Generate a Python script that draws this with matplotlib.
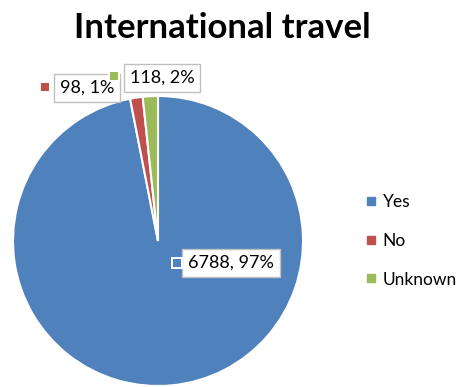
import matplotlib
matplotlib.use("Agg")
import matplotlib.pyplot as plt
from matplotlib.lines import Line2D

categories = ["Yes", "No", "Unknown"]
values = [6788, 98, 118]
percents = ["97%", "1%", "2%"]
colors = ["#4F81BD", "#C0504D", "#9BBB59"]
title = "International travel"

W, H = 464, 387
fig = plt.figure(figsize=(W / 100, H / 100), dpi=100)
cx, cy, r = 158, 241, 145
ax = fig.add_axes([(cx - r) / W, (H - cy - r) / H, 2 * r / W, 2 * r / H])
ax.pie(values, colors=colors, startangle=90, counterclock=False,
       wedgeprops=dict(edgecolor="white", linewidth=1.5))
ax.set_xlim(-1, 1)
ax.set_ylim(-1, 1)
ax.set_aspect("equal")
ax.axis("off")

font = "Lato"

def d(px, py):
    return (px - cx) / r, (cy - py) / r

# label positions (pixel) : text center, marker
label_pos = [((231, 263), (177, 263)), ((87, 88), (45, 87)), ((162, 78), (114, 76))]
for i, (cat, v, p) in enumerate(zip(categories, values, percents)):
    (tx, ty), (mx, my) = label_pos[i]
    x, y = d(tx, ty)
    ax.text(x, y, f"{v}, {p}", ha="center", va="center", fontsize=13,
            family=font, clip_on=False, zorder=3 + i,
            bbox=dict(boxstyle="square,pad=0.32", fc="white", ec="#BFBFBF", lw=1))
    x2, y2 = d(mx, my)
    ax.plot([x2], [y2], marker="s", markersize=7, color=colors[i],
            markeredgecolor="white", markeredgewidth=1.4, clip_on=False,
            zorder=10)

fig.text(222 / W, 1 - 28 / H, title, ha="center", va="center",
         fontsize=25, fontweight="bold", family=font)

handles = [Line2D([], [], marker="s", linestyle="none", markersize=6,
                  color=c) for c in colors]
fig.legend(handles, categories, loc="center left",
           bbox_to_anchor=(362 / W, 1 - 241 / H), frameon=False,
           borderaxespad=0, borderpad=0,
           prop=dict(family=font, size=12.5), labelspacing=1.3,
           handletextpad=0.2, handlelength=1.0)

fig.savefig("out.png", dpi=100)
